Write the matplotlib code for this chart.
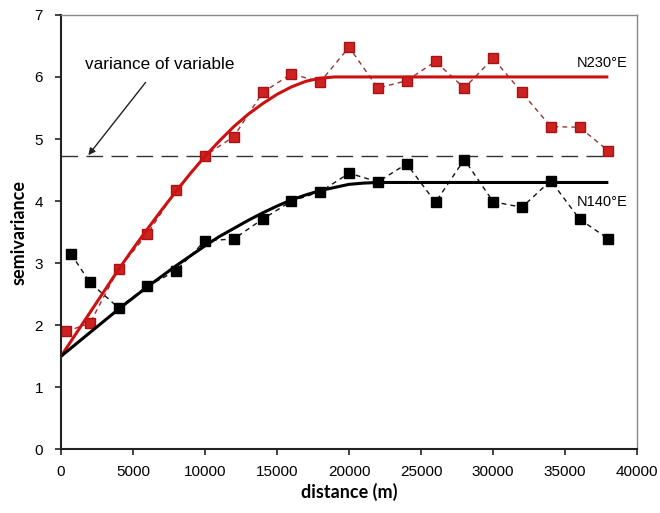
import numpy as np
import matplotlib
matplotlib.use("Agg")
import matplotlib.pyplot as plt

# experimental semivariance, N230E (red) and N140E (black)
dist_red = [350, 2000, 4000, 6000, 8000, 10000, 12000, 14000, 16000, 18000,
            20000, 22000, 24000, 26000, 28000, 30000, 32000, 34000, 36000, 38000]
gamma_red = [1.90, 2.03, 2.91, 3.47, 4.18, 4.73, 5.04, 5.75, 6.05, 5.92,
             6.48, 5.82, 5.94, 6.25, 5.82, 6.30, 5.75, 5.20, 5.19, 4.81]

dist_black = [700, 2000, 4000, 6000, 8000, 10000, 12000, 14000, 16000, 18000,
              20000, 22000, 24000, 26000, 28000, 30000, 32000, 34000, 36000, 38000]
gamma_black = [3.15, 2.69, 2.28, 2.63, 2.88, 3.36, 3.39, 3.71, 4.00, 4.15,
               4.45, 4.31, 4.60, 3.98, 4.67, 3.99, 3.90, 4.33, 3.71, 3.39]

# fitted model curves
fit_red_x = [0, 1000, 2000, 3000, 4000, 5000, 6000, 7000, 8000, 9000, 10000,
             11000, 12000, 13000, 14000, 15000, 16000, 17000, 18000, 19000, 38000]
fit_red_y = [1.50, 1.85, 2.20, 2.55, 2.90, 3.23, 3.55, 3.86, 4.16, 4.45, 4.72,
             4.97, 5.20, 5.40, 5.57, 5.72, 5.84, 5.93, 5.98, 6.00, 6.00]

fit_black_x = [0, 1000, 2000, 3000, 4000, 5000, 6000, 7000, 8000, 9000, 10000,
               11000, 12000, 13000, 14000, 15000, 16000, 17000, 18000, 19000,
               20000, 21000, 22000, 38000]
fit_black_y = [1.50, 1.69, 1.88, 2.07, 2.26, 2.44, 2.62, 2.79, 2.96, 3.12, 3.28,
               3.43, 3.56, 3.69, 3.81, 3.92, 4.02, 4.10, 4.17, 4.22,
               4.27, 4.29, 4.30, 4.30]

variance = 4.72
variance_x = [0, 38000]

fig = plt.figure(figsize=(6.6, 5.13), dpi=100)
ax = fig.add_axes([0.0924, 0.124, 0.873, 0.847])

red = "#cc1111"
ax.plot(variance_x, [variance, variance], color="#333333", lw=1.0,
        dashes=(12, 6))
ax.plot(dist_red, gamma_red, color="#993333", lw=1.0, dashes=(3.5, 3),
        marker="s", ms=6.5, mfc="#cc2222", mec="#aa1111")
ax.plot(dist_black, gamma_black, color="#111111", lw=1.0, dashes=(3.5, 3),
        marker="s", ms=6.5, mfc="black", mec="black")
ax.plot(fit_red_x, fit_red_y, color=red, lw=2.2, solid_capstyle="butt")
ax.plot(fit_black_x, fit_black_y, color="black", lw=2.2, solid_capstyle="butt")

ax.text(39300, 6.22, "N230°E", ha="right", va="center", fontsize=10.5,
        family="Liberation Sans")
ax.text(39300, 3.98, "N140°E", ha="right", va="center", fontsize=10.5,
        family="Liberation Sans")
ax.annotate("variance of variable", xy=(1900, 4.74), xytext=(6850, 6.2),
            ha="center", va="center", fontsize=12.3, family="Liberation Sans",
            arrowprops=dict(arrowstyle="-|>", color="#222222", lw=1.0,
                            mutation_scale=10, shrinkA=7, shrinkB=0))

ax.set_xlim(0, 40000)
ax.set_ylim(0, 7)
ax.set_xticks(range(0, 40001, 5000))
ax.set_yticks(range(0, 8))
ax.tick_params(labelsize=11, direction="out", length=4, width=1.2,
               color="#222222")
ax.tick_params(axis="x", pad=7)
ax.tick_params(axis="y", pad=9)
for lab in ax.get_xticklabels() + ax.get_yticklabels():
    lab.set_family("Liberation Sans")

ax.spines["left"].set_linewidth(1.5)
ax.spines["bottom"].set_linewidth(1.5)
ax.spines["left"].set_color("#222222")
ax.spines["bottom"].set_color("#222222")
ax.spines["top"].set_color("#888888")
ax.spines["right"].set_color("#888888")
ax.spines["top"].set_linewidth(1.0)
ax.spines["right"].set_linewidth(1.0)

ax.set_xlabel("distance (m)", fontsize=13, fontweight="bold", family="Lato",
              labelpad=3)
ax.set_ylabel("semivariance", fontsize=13, fontweight="bold", family="Lato",
              labelpad=5)

fig.savefig("out.png", dpi=100)
